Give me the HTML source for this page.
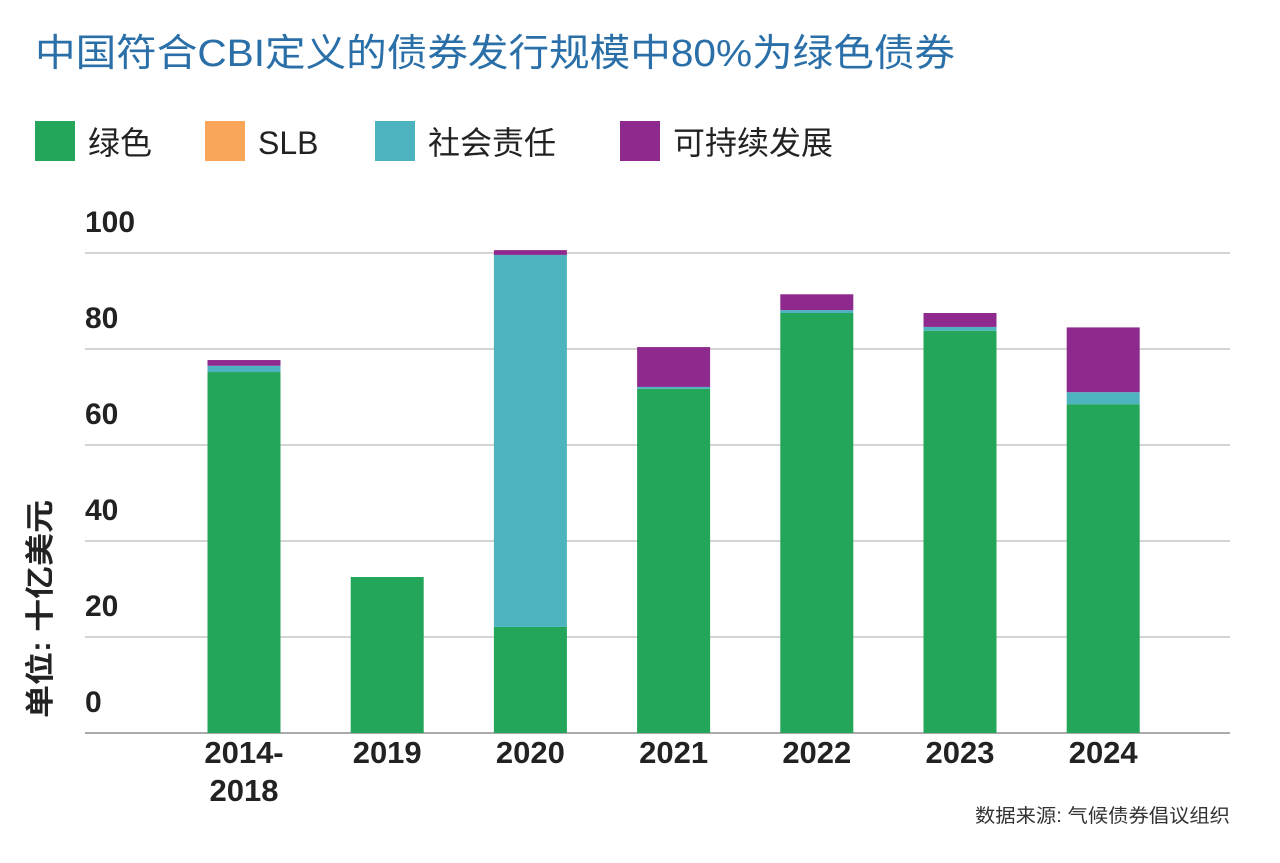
<!DOCTYPE html>
<html><head><meta charset="utf-8"><style>
body{margin:0;background:#fff;width:1280px;height:858px;overflow:hidden;font-family:"Liberation Sans","Noto Sans CJK SC",sans-serif;}
svg text{font-family:"Liberation Sans","Noto Sans CJK SC",sans-serif;}
</style></head><body>
<svg id="c" width="1280" height="858">
<text x="35" y="66" font-size="38" fill="#2a6fa8" textLength="920" lengthAdjust="spacingAndGlyphs">中国符合CBI定义的债券发行规模中80%为绿色债券</text>
<g id="legend"></g>
<g id="grid"></g><g id="bars"></g><g id="xl"></g>
<text transform="translate(50,718) rotate(-90)" font-size="29" font-weight="bold" fill="#222" textLength="218" lengthAdjust="spacingAndGlyphs">单位: 十亿美元</text>
<text x="975" y="822" font-size="19" fill="#333" textLength="255" lengthAdjust="spacingAndGlyphs">数据来源: 气候债券倡议组织</text>
</svg>
<script>
const categories=["2014-\n2018","2019","2020","2021","2022","2023","2024"];
const green=[75.2,32.5,22.1,71.7,87.5,83.8,68.5];
const slb=[0,0,0,0,0,0,0];
const social=[1.3,0,77.5,0.4,0.6,0.8,2.5];
const sustain=[1.2,0,1.0,8.3,3.3,2.9,13.5];
const yTicks=[0,20,40,60,80,100];
const seriesNames=["绿色","SLB","社会责任","可持续发展"];
const colors=["#23a55a","#f9a65a","#4db3bf","#8e2a8e"];
const NS="http://www.w3.org/2000/svg";
function y(v){return 733-v*4.8;}
function xc(i){return 244+i*143.2;}
function mk(t,a,p){const e=document.createElementNS(NS,t);for(const k in a)e.setAttribute(k,a[k]);p.appendChild(e);return e;}
const G=document.getElementById('grid'),B=document.getElementById('bars'),X=document.getElementById('xl'),L=document.getElementById('legend');
const lx=[35,205,375,620];
seriesNames.forEach((n,i)=>{
 const r=mk('rect',{x:lx[i],y:121,width:40,height:40,fill:colors[i]},L);
 
 
 const t=mk('text',{x:lx[i]+53,y:154,'font-size':32,fill:'#222'},L);t.textContent=n;
 
 
});
yTicks.forEach(v=>{
 const l=mk('line',{x1:85,x2:1230,y1:y(v),y2:y(v),stroke:v==0?'#555':'#aaa','stroke-width':1},G);
 
 
 const t=mk('text',{x:85,y:y(v)-21,'font-size':30,'font-weight':'bold',fill:'#222'},G);t.textContent=v;
 
 
});
const series=[green,slb,social,sustain];
categories.forEach((c,i)=>{
 let base=0;
 series.forEach((s,k)=>{
  if(s[i]<=0)return;
  const r=mk('rect',{x:xc(i)-36.5,y:y(base+s[i]),width:73,height:s[i]*4.8,fill:colors[k]},B);
  
  
  base+=s[i];
 });
 c.split('\n').forEach((ln,j)=>{
  const t=mk('text',{x:xc(i),y:763+j*38,'text-anchor':'middle','font-size':31,'font-weight':'bold',fill:'#222'},X);t.textContent=ln;
  
  
 });
});
</script>
</body></html>
